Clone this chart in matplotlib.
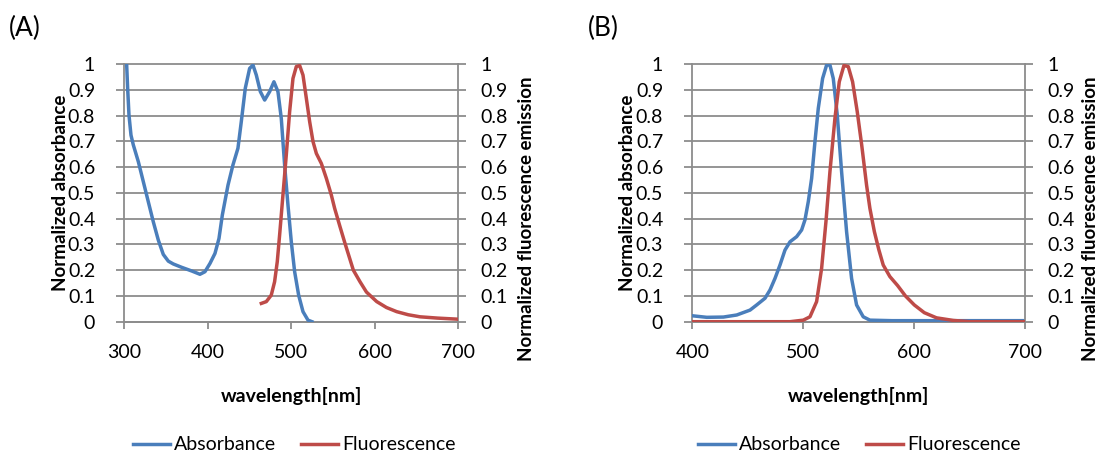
import matplotlib
matplotlib.use("Agg")
import matplotlib.pyplot as plt
from matplotlib.lines import Line2D

plt.rcParams['font.family'] = ['Lato', 'DejaVu Sans']

# ---------------- data ----------------
absA_x = [302.8, 304, 305.6, 308, 310.8, 316.8, 322.8, 328.7, 334.7, 340.7, 346.7, 352.7,
          358.7, 368.7, 380.6, 390.6, 396.6, 402.6, 408.6, 413.4, 417.4, 424.2, 430.1, 436.1,
          440.1, 444.9, 450.1, 454.1, 458.1, 462.9, 468.1, 474.1, 479.2, 484, 488, 492, 496,
          500, 504, 508.8, 514, 520, 524.8]
absA_y = [1.0, 0.906, 0.802, 0.724, 0.686, 0.621, 0.543, 0.466, 0.388, 0.317, 0.261, 0.235,
          0.224, 0.211, 0.197, 0.184, 0.194, 0.226, 0.265, 0.323, 0.414, 0.53, 0.608, 0.673,
          0.776, 0.906, 0.983, 0.996, 0.957, 0.893, 0.86, 0.893, 0.931, 0.893, 0.789, 0.608,
          0.453, 0.31, 0.194, 0.103, 0.039, 0.006, 0.0]

fluA_x = [464.1, 470.1, 476, 480, 483.2, 486, 490, 494, 498, 502, 506, 510, 514, 518, 522,
          526, 530, 536, 542, 547.9, 551.9, 558.3, 564.3, 574.3, 582.3, 590, 602.3, 614,
          626.2, 640, 654.1, 675, 698.1]
fluA_y = [0.071, 0.078, 0.103, 0.155, 0.233, 0.336, 0.492, 0.647, 0.815, 0.944, 0.99, 0.994,
          0.957, 0.867, 0.776, 0.699, 0.653, 0.614, 0.556, 0.492, 0.44, 0.369, 0.304, 0.2,
          0.155, 0.115, 0.078, 0.055, 0.039, 0.027, 0.019, 0.014, 0.010]

absB_x = [400, 413, 428, 440, 452, 458, 465.5, 470, 474.5, 479, 483.5, 488, 494, 498.5,
          501.5, 504.5, 507.5, 510.5, 513.5, 517.4, 521, 524, 527, 530.6, 534.5, 539, 543.5,
          548, 554, 560, 580, 620, 660, 700]
absB_y = [0.023, 0.017, 0.018, 0.026, 0.045, 0.065, 0.091, 0.123, 0.168, 0.22, 0.278, 0.31,
          0.33, 0.356, 0.395, 0.466, 0.556, 0.699, 0.828, 0.944, 0.996, 0.996, 0.944, 0.802,
          0.582, 0.349, 0.168, 0.065, 0.019, 0.006, 0.004, 0.004, 0.004, 0.004]

fluB_x = [400, 488, 500, 506, 512, 516.5, 520.4, 524, 528.5, 532.4, 536.6, 540.5, 544.4,
          548.6, 552.6, 557, 560, 564, 568, 572, 578, 585, 592, 600, 609, 620, 635, 650, 700]
fluB_y = [0.0, 0.0, 0.006, 0.019, 0.078, 0.207, 0.388, 0.582, 0.789, 0.931, 0.994, 0.99,
          0.931, 0.815, 0.686, 0.53, 0.44, 0.35, 0.28, 0.22, 0.175, 0.14, 0.1, 0.065, 0.035,
          0.015, 0.005, 0.0, 0.0]

yticks = [0, 0.1, 0.2, 0.3, 0.4, 0.5, 0.6, 0.7, 0.8, 0.9, 1]
yticklabels = ['0', '0.1', '0.2', '0.3', '0.4', '0.5', '0.6', '0.7', '0.8', '0.9', '1']
xticksA = [300, 400, 500, 600, 700]
xticksB = [400, 500, 600, 700]
series_names = ['Absorbance', 'Fluorescence']
ylabel_left = 'Normalized absorbance'
ylabel_right = 'Normalized fluorescence emission'
xlabel = 'wavelength[nm]'

BLUE = '#4A7EBB'
RED = '#BE4B48'
GRID = '#8C8C8C'
LW = 2.5

W, H = 1104, 454
fig = plt.figure(figsize=(W / 100, H / 100), dpi=100)


def make_panel(left_px, width_px, xs_abs, ys_abs, xs_flu, ys_flu, xticks, label,
               label_x, ylab_x, ylab2_x, leg_x):
    top_px, bot_px = 64, 321.7
    ax = fig.add_axes([left_px / W, (H - bot_px) / H, width_px / W, (bot_px - top_px) / H])
    ax.set_xlim(xticks[0], xticks[-1])
    ax.set_ylim(0, 1)
    ax.set_yticks(yticks)
    ax.set_yticklabels(yticklabels)
    ax.set_xticks(xticks)
    for y in yticks:
        ax.axhline(y, color=GRID, lw=1.3, zorder=1, clip_on=False)
    ax.spines['top'].set_visible(False)
    ax.spines['right'].set_visible(False)
    for s in ['left', 'bottom']:
        ax.spines[s].set_color(GRID)
        ax.spines[s].set_linewidth(1.3)
    ax.tick_params(axis='y', left=True, right=False, length=6, width=1.3, color=GRID,
                   labelsize=14, pad=15)
    ax.tick_params(axis='x', length=5, width=1.3, color=GRID, labelsize=14, pad=11)

    ax2 = ax.twinx()
    ax2.set_ylim(0, 1)
    ax2.set_yticks(yticks)
    ax2.set_yticklabels(yticklabels)
    for s in ['top', 'left', 'bottom']:
        ax2.spines[s].set_visible(False)
    ax2.spines['right'].set_color(GRID)
    ax2.spines['right'].set_linewidth(1.3)
    ax2.tick_params(axis='y', length=6, width=1.3, color=GRID, labelsize=14, pad=10)

    ax.plot(xs_abs, ys_abs, color=BLUE, lw=LW, zorder=3)
    ax2.plot(xs_flu, ys_flu, color=RED, lw=LW, zorder=3)

    fig.text(label_x / W, 1 - 28 / H, label, fontsize=19, ha='left', va='center')
    fig.text(ylab_x / W, 1 - 193 / H, ylabel_left, rotation=90, fontsize=13.5,
             fontweight='bold', ha='center', va='center')
    fig.text(ylab2_x / W, 1 - 219 / H, ylabel_right, rotation=90,
             fontsize=13.5, fontweight='bold', ha='center', va='center')
    fig.text((left_px + width_px / 2) / W, 1 - 396 / H, xlabel, fontsize=14,
             fontweight='bold', ha='center', va='center')

    handles = [Line2D([], [], color=BLUE, lw=LW), Line2D([], [], color=RED, lw=LW)]
    fig.legend(handles, series_names, loc='center',
               bbox_to_anchor=(leg_x / W, 1 - 445 / H), ncol=2, frameon=False,
               fontsize=14, handlelength=1.9, handletextpad=0.2, columnspacing=1.3,
               borderaxespad=0, borderpad=0)
    return ax


make_panel(124.3, 334, absA_x, absA_y, fluA_x, fluA_y, xticksA, '(A)',
           9, 60.5, 526, 294)
make_panel(692.3, 333, absB_x, absB_y, fluB_x, fluB_y, xticksB, '(B)',
           588, 627.5, 1090, 859)

fig.savefig('out.png', dpi=100)
